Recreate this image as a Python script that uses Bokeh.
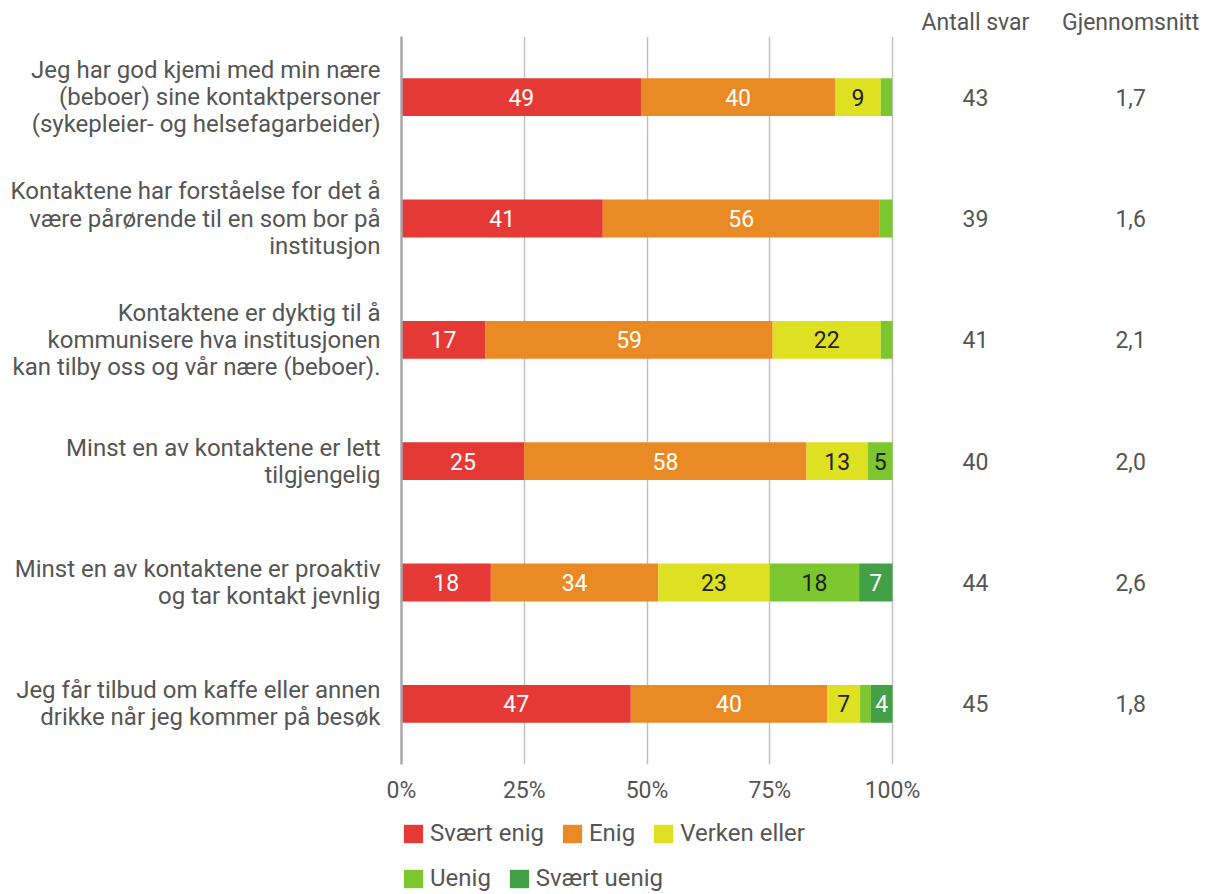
from bokeh.plotting import figure
from bokeh.layouts import column
from bokeh.models import (FactorRange, Range1d, FixedTicker, PrintfTickFormatter,
                          Legend, LegendItem, LinearAxis, ColumnDataSource)
from bokeh.core.properties import value
from bokeh.embed import file_html
from bokeh.resources import INLINE

# ---------------- data ----------------
categories = [
    "Jeg har god kjemi med min nære\n(beboer) sine kontaktpersoner\n(sykepleier- og helsefagarbeider)",
    "Kontaktene har forståelse for det å\nvære pårørende til en som bor på\ninstitusjon",
    "Kontaktene er dyktig til å\nkommunisere hva institusjonen\nkan tilby oss og vår nære (beboer).",
    "Minst en av kontaktene er lett\ntilgjengelig",
    "Minst en av kontaktene er proaktiv\nog tar kontakt jevnlig",
    "Jeg får tilbud om kaffe eller annen\ndrikke når jeg kommer på besøk",
]
series = ["Svært enig", "Enig", "Verken eller", "Uenig", "Svært uenig"]
svaert_enig = [48.8, 41.0, 17.1, 25.0, 18.2, 46.7]
enig = [39.5, 56.4, 58.5, 57.5, 34.1, 40.0]
verken_eller = [9.3, 0.0, 22.0, 12.5, 22.7, 6.7]
uenig = [2.3, 2.6, 2.4, 5.0, 18.2, 2.2]
svaert_uenig = [0.0, 0.0, 0.0, 0.0, 6.8, 4.4]
antall_svar = [43, 39, 41, 40, 44, 45]
gjennomsnitt = [1.7, 1.6, 2.1, 2.0, 2.6, 1.8]
x_ticks = [0, 25, 50, 75, 100]
col_headers = ["Antall svar", "Gjennomsnitt"]

# ---------------- style ----------------
colors = ["#E53935", "#EA8A25", "#DEE022", "#7CC72F", "#43A047"]
label_colors = ["white", "white", "#222222", "#222222", "white"]
FONT = "Roboto"
FS = "23px"
FS_BIG = "24px"
GRAY = "#555555"
W = 1211
H_MAIN, H_LEG = 806, 88
PX_PER_UNIT = 4.91
LEFT = 401
col_x = [116.9, 148.5]

all_series = [svaert_enig, enig, verken_eller, uenig, svaert_uenig]
keys = ["s0", "s1", "s2", "s3", "s4"]

p = figure(width=W, height=H_MAIN,
           y_range=FactorRange(factors=categories[::-1]),
           x_range=Range1d(0, (W - LEFT) / PX_PER_UNIT),
           output_backend="svg", toolbar_location=None,
           min_border_left=LEFT, min_border_right=0,
           min_border_top=36, min_border_bottom=39)
p.outline_line_color = None
p.background_fill_color = "white"

src = ColumnDataSource(dict(cat=categories, **{k: v for k, v in zip(keys, all_series)}))
rs = p.hbar_stack(keys, y="cat", height=0.312, color=colors, line_color=None, source=src)

# segment labels
lx, ly, lt, lc = [], [], [], []
for i, cat in enumerate(categories):
    left = 0.0
    for j, s in enumerate(all_series):
        v = s[i]
        if v >= 3.5:
            lx.append(left + v / 2)
            ly.append(cat)
            lt.append(str(int(v + 0.5)))
            lc.append(label_colors[j])
        left += v
p.text(x=lx, y=ly, text=lt, text_color=lc, text_align="center", text_baseline="middle",
       text_font=value(FONT), text_font_size=FS)

# right-hand columns
p.text(x=[col_x[0]] * len(categories), y=categories, text=[str(n) for n in antall_svar],
       text_color=GRAY, text_align="center", text_baseline="middle",
       text_font=value(FONT), text_font_size=FS)
p.text(x=[col_x[1]] * len(categories), y=categories,
       text=[f"{g:.1f}".replace(".", ",") for g in gjennomsnitt],
       text_color=GRAY, text_align="center", text_baseline="middle",
       text_font=value(FONT), text_font_size=FS)

# axes
p.yaxis.axis_line_color = "#a8a8a8"
p.yaxis.axis_line_width = 2.5
p.yaxis.major_tick_line_color = None
p.yaxis.minor_tick_line_color = None
p.yaxis.major_tick_out = 0
p.yaxis.major_tick_in = 0
p.yaxis.minor_tick_out = 0
p.yaxis.minor_tick_in = 0
p.yaxis.major_label_standoff = 21
p.yaxis.major_label_text_font = FONT
p.yaxis.major_label_text_font_size = FS_BIG
p.yaxis.major_label_text_color = GRAY
p.yaxis.major_label_text_line_height = 0.97

bx = p.xaxis[0]
bx.ticker = FixedTicker(ticks=x_ticks)
bx.formatter = PrintfTickFormatter(format="%d%%")
bx.axis_line_color = None
bx.major_tick_line_color = None
bx.minor_tick_line_color = None
bx.major_tick_out = 0
bx.major_tick_in = 0
bx.minor_tick_out = 0
bx.minor_tick_in = 0
bx.major_label_standoff = 12
bx.major_label_text_font = FONT
bx.major_label_text_font_size = FS
bx.major_label_text_color = GRAY
bx.major_label_text_line_height = 1.0

# column headers as an axis above
top_axis = LinearAxis(ticker=FixedTicker(ticks=col_x),
                      major_label_overrides={col_x[0]: col_headers[0], col_x[1]: col_headers[1]},
                      axis_line_color=None, major_tick_line_color=None,
                      minor_tick_line_color=None, major_tick_out=0, major_tick_in=0,
                      minor_tick_out=0, minor_tick_in=0,
                      major_label_standoff=1, major_label_text_font=FONT,
                      major_label_text_font_size=FS, major_label_text_color=GRAY,
                      major_label_text_line_height=1.0)
p.add_layout(top_axis, "above")

p.ygrid.visible = False
p.xgrid.ticker = FixedTicker(ticks=x_ticks)
p.xgrid.grid_line_color = "#c0c0c0"
p.xgrid.grid_line_width = 1.5

# ---------------- legend strip ----------------
pl = figure(width=W, height=H_LEG, x_range=Range1d(0, 1), y_range=Range1d(0, 1),
            output_backend="svg", toolbar_location=None,
            x_axis_type=None, y_axis_type=None,
            min_border_left=0, min_border_right=0, min_border_top=0, min_border_bottom=0)
pl.outline_line_color = None
pl.xgrid.visible = False
pl.ygrid.visible = False
# swatch renderers kept out of view; they only supply legend glyph styles
swatches = [pl.hbar(y=[-5], left=[0], right=[0], height=1, color=c, line_color=None)
            for c in colors]

def make_legend(idx, loc):
    return Legend(items=[LegendItem(label=series[i], renderers=[swatches[i]]) for i in idx],
                  orientation="horizontal", location=loc,
                  glyph_width=24, glyph_height=23, label_height=23, label_standoff=5,
                  spacing=16, padding=0, margin=0, border_line_color=None,
                  background_fill_alpha=0, label_text_font=FONT,
                  label_text_font_size=FS_BIG, label_text_color=GRAY)

pl.add_layout(make_legend([0, 1, 2], (0, 47)))
pl.add_layout(make_legend([3, 4], (0, 2)))

layout = column(p, pl, spacing=0)
open("out.html", "w").write(file_html(layout, INLINE))
